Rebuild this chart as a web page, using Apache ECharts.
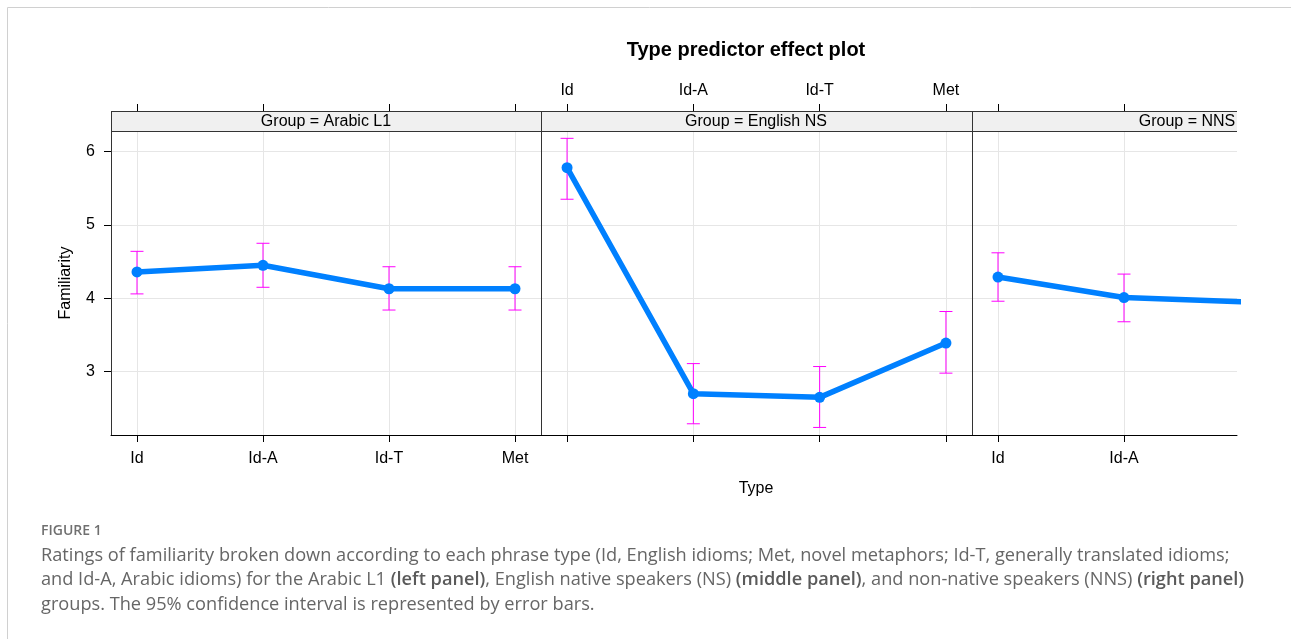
<!DOCTYPE html>
<html>
<head>
<meta charset="utf-8">
<script src="https://cdn.jsdelivr.net/npm/echarts@6/dist/echarts.min.js"></script>
<style>
html,body{margin:0;padding:0;background:#fff;}
#chart{width:1291px;height:639px;}
</style>
</head>
<body>
<div id="chart"></div>
<script>
// ---- data ----
const typeLabels = ['Id', 'Id-A', 'Id-T', 'Met'];
const groups = ['Arabic L1', 'English NS', 'NNS'];
const yTicks = [3, 4, 5, 6];

const arabicFit = [4.36, 4.45, 4.13, 4.13];
const arabicLower = [4.06, 4.15, 3.84, 3.84];
const arabicUpper = [4.64, 4.75, 4.43, 4.43];

const englishFit = [5.78, 2.70, 2.65, 3.39];
const englishLower = [5.35, 2.29, 2.24, 2.98];
const englishUpper = [6.18, 3.11, 3.07, 3.82];

const nnsFit = [4.29, 4.01, 3.95];
const nnsLower = [3.96, 3.68, 3.62];
const nnsUpper = [4.62, 4.33, 4.28];

// ---- layout ----
const fits = [arabicFit, englishFit, nnsFit];
const lowers = [arabicLower, englishLower, nnsLower];
const uppers = [arabicUpper, englishUpper, nnsUpper];
const panels = [
  {left: 111, width: 430, xmin: -0.2063, xmax: 3.2063},
  {left: 541, width: 431, xmin: -0.2063, xmax: 3.2063},
  {left: 972, width: 265, xmin: -0.2063, xmax: 1.8968}
];
const TOP = 131, H = 304, STRIP = 20;
const YMIN = 2.137, YMAX = 6.28;
const axisFont = 'Liberation Sans, Arial, sans-serif';
const AFS = 16;

const grid = [], xAxis = [], yAxis = [], series = [];
panels.forEach((p, i) => {
  grid.push({left: p.left, top: TOP, width: p.width, height: H, show: false});
  const idx = typeLabels.map((_, k) => k).filter(k => k <= p.xmax);
  // bottom axis
  xAxis.push({
    gridIndex: i, type: 'value', min: p.xmin, max: p.xmax, position: 'bottom',
    axisLine: {show: true, onZero: false, lineStyle: {color: '#000', width: 1}},
    axisTick: {show: true, length: 7, customValues: idx, lineStyle: {color: '#000'}},
    axisLabel: {show: i !== 1, customValues: idx, formatter: v => typeLabels[Math.round(v)],
      margin: 16, fontSize: AFS, color: '#000', fontFamily: axisFont},
    splitLine: {show: true, lineStyle: {color: '#e6e6e6', width: 1}}
  });
  // top axis (above strip)
  xAxis.push({
    gridIndex: i, type: 'value', min: p.xmin, max: p.xmax, position: 'top', offset: STRIP,
    axisLine: {show: false, onZero: false},
    axisTick: {show: true, length: 7, customValues: idx, lineStyle: {color: '#000'}},
    axisLabel: {show: i === 1, customValues: idx, formatter: v => typeLabels[Math.round(v)],
      margin: 12, fontSize: AFS, color: '#000', fontFamily: axisFont},
    splitLine: {show: false}
  });
  yAxis.push({
    gridIndex: i, type: 'value', min: YMIN, max: YMAX,
    axisLine: {show: true, onZero: false, lineStyle: {color: '#333', width: 1}},
    axisTick: {show: i === 0, length: 7, customValues: yTicks, lineStyle: {color: '#000'}},
    axisLabel: {show: i === 0, customValues: yTicks, formatter: v => String(Math.round(v)),
      margin: 16, fontSize: AFS, color: '#000', fontFamily: axisFont},
    splitLine: {show: true, lineStyle: {color: '#e6e6e6', width: 1}}
  });
  // error bars
  series.push({
    type: 'custom', xAxisIndex: i * 2, yAxisIndex: i, clip: true, z: 2,
    data: fits[i].map((_, k) => [k, lowers[i][k], uppers[i][k]]),
    encode: {x: 0, y: [1, 2]},
    renderItem: function (params, api) {
      const x = api.value(0);
      const lo = api.coord([x, api.value(1)]);
      const hi = api.coord([x, api.value(2)]);
      const w = 6.5;
      const st = {stroke: '#ff00ff', lineWidth: 1};
      return {type: 'group', children: [
        {type: 'line', shape: {x1: lo[0], y1: lo[1], x2: hi[0], y2: hi[1]}, style: st},
        {type: 'line', shape: {x1: lo[0] - w, y1: lo[1], x2: lo[0] + w, y2: lo[1]}, style: st},
        {type: 'line', shape: {x1: hi[0] - w, y1: hi[1], x2: hi[0] + w, y2: hi[1]}, style: st}
      ]};
    }
  });
  // fitted line
  series.push({
    type: 'line', xAxisIndex: i * 2, yAxisIndex: i, clip: true, z: 3,
    data: fits[i].map((v, k) => [k, v]),
    symbol: 'circle', symbolSize: 11, showSymbol: true,
    lineStyle: {color: '#0080ff', width: 5.5},
    itemStyle: {color: '#0080ff'},
    emphasis: {disabled: true}, animation: false
  });
});

// strips and decorations
const graphic = [];
// card border
graphic.push({type: 'line', shape: {x1: 7.5, y1: 7.5, x2: 1291, y2: 7.5}, style: {stroke: '#d0d0d0', lineWidth: 1}});
graphic.push({type: 'line', shape: {x1: 7.5, y1: 7.5, x2: 7.5, y2: 639}, style: {stroke: '#d0d0d0', lineWidth: 1}});
panels.forEach((p, i) => {
  const y0 = TOP - STRIP;
  graphic.push({type: 'rect', shape: {x: p.left, y: y0, width: p.width, height: STRIP},
    style: {fill: '#f0f0f0', stroke: null}, z: 10});
  graphic.push({type: 'line', shape: {x1: p.left, y1: y0 + 0.5, x2: p.left + p.width, y2: y0 + 0.5}, style: {stroke: '#333', lineWidth: 1}, z: 11});
  graphic.push({type: 'line', shape: {x1: p.left, y1: TOP + 0.5, x2: p.left + p.width, y2: TOP + 0.5}, style: {stroke: '#333', lineWidth: 1}, z: 11});
  graphic.push({type: 'line', shape: {x1: p.left + 0.5, y1: y0, x2: p.left + 0.5, y2: TOP}, style: {stroke: '#333', lineWidth: 1}, z: 11});
  graphic.push({type: 'text', x: p.left + 215, y: y0 + STRIP / 2 + 1, z: 12,
    style: {text: 'Group = ' + groups[i], textAlign: 'center', textVerticalAlign: 'middle',
      font: AFS + 'px ' + axisFont, fill: '#000'}});
});
graphic.push({type: 'line', shape: {x1: 972.5, y1: TOP - STRIP, x2: 972.5, y2: TOP}, style: {stroke: '#333', lineWidth: 1}, z: 11});
// title and axis names
graphic.push({type: 'text', x: 746, y: 50, style: {text: 'Type predictor effect plot', textAlign: 'center',
  textVerticalAlign: 'middle', font: 'bold 20px ' + axisFont, fill: '#000'}});
graphic.push({type: 'text', x: 756, y: 489, style: {text: 'Type', textAlign: 'center',
  textVerticalAlign: 'middle', font: AFS + 'px ' + axisFont, fill: '#000'}});
graphic.push({type: 'text', x: 66, y: 283, rotation: Math.PI / 2, style: {text: 'Familiarity', textAlign: 'center',
  textVerticalAlign: 'middle', font: AFS + 'px ' + axisFont, fill: '#000'}});
// caption
const capFont = '"Open Sans", sans-serif';
graphic.push({type: 'text', x: 41, y: 531, style: {text: 'FIGURE 1', textVerticalAlign: 'middle',
  font: '600 14px ' + capFont, fill: '#707070'}});
const capRich = {
  n: {fontFamily: capFont, fontSize: 18.2, fontWeight: 400, fill: '#666', color: '#666'},
  b: {fontFamily: capFont, fontSize: 18.2, fontWeight: 600, fill: '#5a5a5a', color: '#5a5a5a'}
};
const capLines = [
  '{n|Ratings of familiarity broken down according to each phrase type (Id, English idioms; Met, novel metaphors; Id-T, generally translated idioms;}',
  '{n|and Id-A, Arabic idioms) for the Arabic L1 }{b|(left panel)}{n|, English native speakers (NS) }{b|(middle panel)}{n|, and non-native speakers (NNS) }{b|(right panel)}',
  '{n|groups. The 95% confidence interval is represented by error bars.}'
];
capLines.forEach((t, k) => {
  graphic.push({type: 'text', x: 41, y: 555.5 + k * 24.5, style: {text: t, rich: capRich, textVerticalAlign: 'middle'}});
});

const chart = echarts.init(document.getElementById('chart'), null, {renderer: 'canvas'});
chart.setOption({
  animation: false,
  grid: grid, xAxis: xAxis, yAxis: yAxis, series: series, graphic: graphic
});
</script>
</body>
</html>
